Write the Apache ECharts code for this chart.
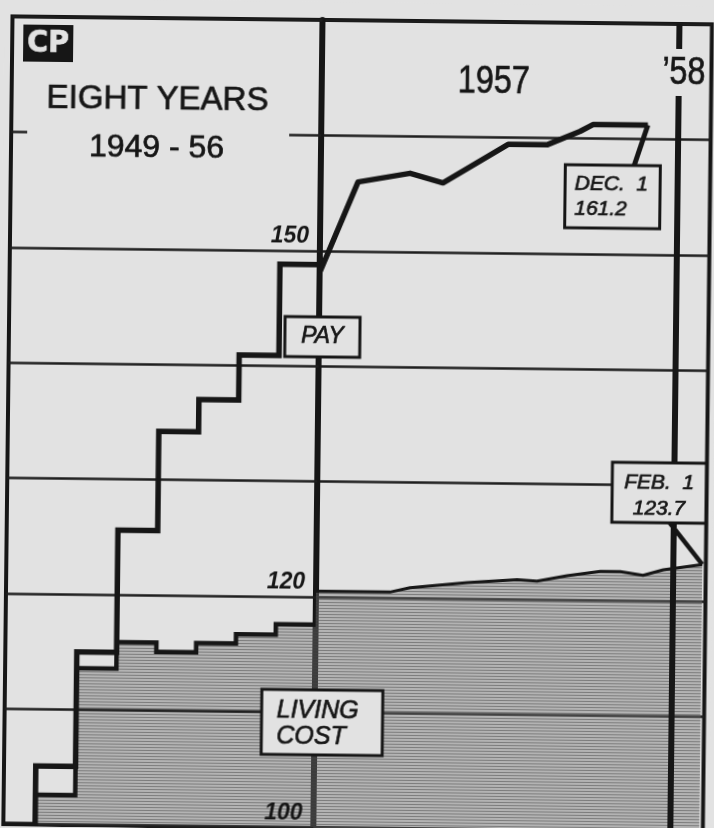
<!DOCTYPE html>
<html>
<head>
<meta charset="utf-8">
<script src="https://cdn.jsdelivr.net/npm/echarts@6/dist/echarts.min.js"></script>
<style>
  html, body { margin: 0; padding: 0; background: #e2e2e2; overflow: hidden; }
  /* the scanned clipping sits a little crooked on the page */
  #chart { width: 714px; height: 828px; transform: rotate(0.65deg); transform-origin: 150px 414px; }
</style>
</head>
<body>
<div id="chart"></div>
<script>
  // 1949 - 56, one step per year (index, 1949 = 100)
  var years = [1949.2, 1950, 1951, 1952, 1953, 1954, 1955, 1956, 1957]
  var payYearly = [100, 105.1, 115.0, 125.6, 134.2, 137.0, 140.9, 148.8, 148.8]
  var costYearly = [100, 102.6, 113.6, 115.9, 115.1, 115.9, 116.7, 117.6, 117.6]

  // 1957 to Feb 1 '58, months counted from Jan 1 1957
  var payMonths = [0, 1.26, 3.01, 4.12, 6.3, 7.61, 8.72, 9.15, 11]
  var payMonthly = [148.1, 156.0, 156.8, 156.0, 159.4, 159.4, 160.6, 161.2, 161.2]
  var costMonths = [0, 2.49, 3.17, 5.09, 6.77, 7.44, 8.45, 9.57, 10.24, 11.01, 11.69, 13]
  var costMonthly = [120.5, 120.5, 120.9, 121.4, 121.7, 121.6, 122.1, 122.5, 122.5, 122.2, 122.7, 123.2]

  var yLabels = [100, 120, 150]
  var newYearMonth = 12

  var ink = '#161616'
  var paper = '#e2e2e2'
  var face = '"Liberation Sans", Arial, sans-serif'

  function pairs (xs, ys) {
    return xs.map(function (x, i) { return [x, ys[i]] })
  }

  // horizontal hatching of the living cost area
  var hatch = document.createElement('canvas')
  hatch.width = 4
  hatch.height = 3
  var ctx = hatch.getContext('2d')
  ctx.fillStyle = 'rgba(115,115,115,0.42)'
  ctx.fillRect(0, 0, 4, 3)
  ctx.fillStyle = 'rgba(70,70,70,0.5)'
  ctx.fillRect(0, 0, 4, 1)
  var hatchFill = { image: hatch, repeat: 'repeat' }

  var splitStyle = { show: true, lineStyle: { color: '#1e1e1e', width: 2.5 } }

  var chart = echarts.init(document.getElementById('chart'))
  chart.setOption({
    animation: false,
    backgroundColor: paper,
    grid: [
      { left: 8, right: 396, top: 18, bottom: 2, show: true, borderColor: ink, borderWidth: 4, outerBoundsMode: 'none' },
      { left: 318, right: 6.5, top: 18, bottom: 2, show: true, borderColor: ink, borderWidth: 4, outerBoundsMode: 'none' }
    ],
    xAxis: [
      { type: 'value', gridIndex: 0, min: 1949.2, max: 1957, show: false },
      { type: 'value', gridIndex: 1, min: 0, max: 13.12, show: false }
    ],
    yAxis: [
      {
        // labels sit over the hatching, so this axis goes above the areas
        type: 'value', gridIndex: 0, min: 100, max: 170, interval: 10, position: 'right', z: 6,
        axisLine: { show: false },
        axisTick: { show: false },
        splitLine: splitStyle,
        axisLabel: {
          inside: true,
          margin: 11,
          color: ink,
          fontSize: 23,
          fontStyle: 'italic',
          fontWeight: 'bold',
          fontFamily: face,
          verticalAlign: 'bottom',
          padding: [0, 0, 3, 0],
          formatter: function (v) { return yLabels.indexOf(v) > -1 ? String(v) : '' }
        }
      },
      {
        type: 'value', gridIndex: 1, min: 100, max: 170, interval: 10, position: 'left', z: 3,
        axisLine: { show: true, lineStyle: { color: ink, width: 6 } },
        axisTick: { show: false },
        axisLabel: { show: false },
        splitLine: splitStyle
      }
    ],
    series: [
      {
        name: 'Living cost', type: 'line', xAxisIndex: 0, yAxisIndex: 0, step: 'end', symbol: 'none', z: 4,
        data: pairs(years, costYearly),
        lineStyle: { color: ink, width: 4.5, join: 'miter' },
        areaStyle: { color: hatchFill, origin: 'start', opacity: 1 }
      },
      {
        name: 'Pay', type: 'line', xAxisIndex: 0, yAxisIndex: 0, step: 'end', symbol: 'none', z: 7,
        data: pairs(years, payYearly),
        lineStyle: { color: ink, width: 5.5, join: 'miter' }
      },
      {
        name: 'Living cost 1957', type: 'line', xAxisIndex: 1, yAxisIndex: 1, symbol: 'none', z: 4,
        data: pairs(costMonths, costMonthly),
        lineStyle: { color: ink, width: 3 },
        areaStyle: { color: hatchFill, origin: 'start', opacity: 1 },
        markLine: {
          silent: true,
          symbol: 'none',
          label: { show: false },
          lineStyle: { color: ink, width: 6, type: 'solid' },
          data: [{ xAxis: newYearMonth }]
        }
      },
      {
        name: 'Pay 1957', type: 'line', xAxisIndex: 1, yAxisIndex: 1, symbol: 'none', z: 7,
        data: pairs(payMonths, payMonthly),
        lineStyle: { color: ink, width: 5.5, join: 'round' }
      }
    ]
  })

  // notes and labels drawn on top
  var payEnd = chart.convertToPixel({ xAxisIndex: 1, yAxisIndex: 1 }, [payMonths[payMonths.length - 1], payMonthly[payMonthly.length - 1]])
  var costEnd = chart.convertToPixel({ xAxisIndex: 1, yAxisIndex: 1 }, [costMonths[costMonths.length - 1], costMonthly[costMonthly.length - 1]])

  function box (x, y, w, h) {
    return { type: 'rect', z: 100, shape: { x: x, y: y, width: w, height: h }, style: { fill: paper, stroke: ink, lineWidth: 3 } }
  }
  // thin outline thickens the type a little, like newsprint
  function label (text, x, y, font, align, sx, fill) {
    return {
      type: 'text', z: 101, x: x, y: y, scaleX: sx || 1,
      style: {
        text: text, x: 0, y: 0, fill: fill || ink, stroke: fill || ink, lineWidth: 0.7,
        font: font, textAlign: align || 'center', textVerticalAlign: 'middle'
      }
    }
  }

  chart.setOption({
    graphic: [
      // title block hides the top grid line
      { type: 'rect', z: 99, shape: { x: 24, y: 120, width: 262, height: 26 }, style: { fill: paper } },
      { type: 'rect', z: 100, shape: { x: 19, y: 26, width: 50, height: 37 }, style: { fill: ink } },
      label('CP', 44, 45, 'bold 30px "DejaVu Sans", sans-serif', 'center', 0.95, paper),
      label('EIGHT YEARS', 154, 100, '33px ' + face),
      label('1949 - 56', 153.5, 148.5, '32px ' + face),
      label('1957', 490, 79, '38px ' + face, 'center', 0.85),
      { type: 'rect', z: 99, shape: { x: 655, y: 43, width: 48, height: 47 }, style: { fill: paper } },
      label('\u201958', 680, 68, '38px ' + face, 'center', 0.85),

      box(284, 315, 75, 40),
      label('PAY', 321.5, 335, 'italic 23px ' + face),

      box(265, 688, 121, 65),
      label('LIVING', 280, 709, 'italic 25px ' + face, 'left'),
      label('COST', 280, 735, 'italic 25px ' + face, 'left'),

      { type: 'line', z: 100, shape: { x1: payEnd[0], y1: payEnd[1], x2: 631, y2: 161 }, style: { stroke: ink, lineWidth: 5 } },
      box(562.5, 160, 95, 63),
      label('DEC.  1', 572, 179, 'italic 21px ' + face, 'left'),
      label('161.2', 572, 204, 'italic 21px ' + face, 'left'),

      { type: 'line', z: 100, shape: { x1: 671, y1: 517, x2: costEnd[0], y2: costEnd[1] }, style: { stroke: ink, lineWidth: 4.5 } },
      box(613, 457, 94, 60),
      label('FEB.  1', 660, 477, 'italic 21px ' + face),
      label('123.7', 660, 503, 'italic 21px ' + face)
    ]
  })
</script>
</body>
</html>
